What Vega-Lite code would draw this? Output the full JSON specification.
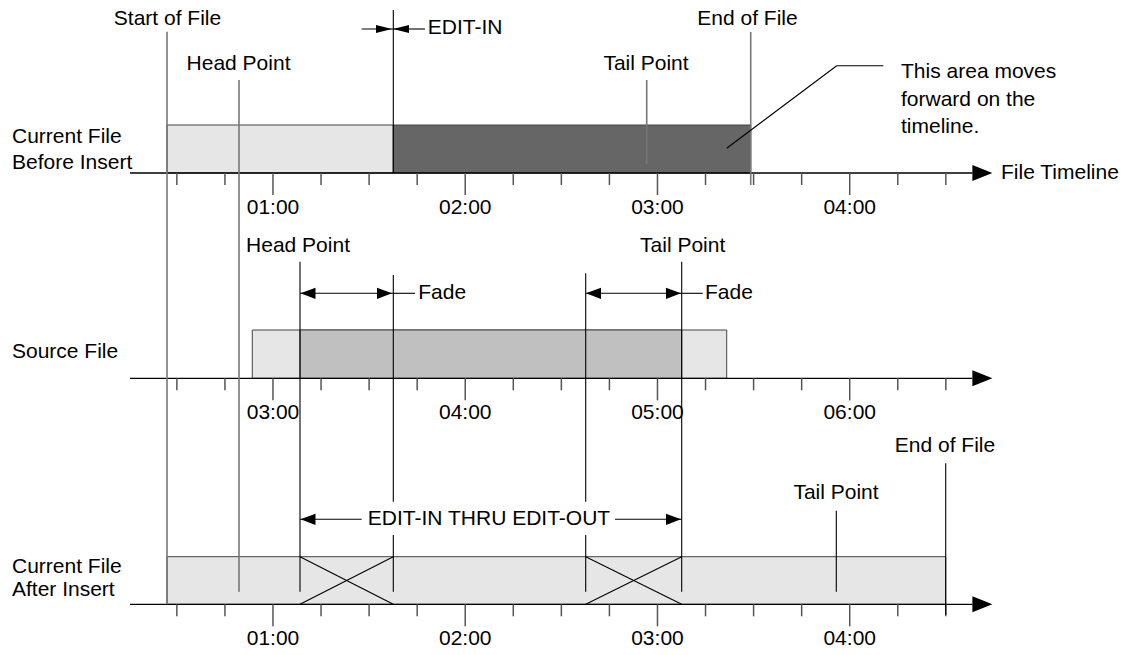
{
  "$schema": "https://vega.github.io/schema/vega-lite/v6.json",
  "width": 1127,
  "height": 655,
  "autosize": {"type": "fit", "contains": "padding"},
  "padding": 0,
  "background": "white",
  "config": {"view": {"stroke": null}},
  "datasets": {
    "bars": [
      {"x": 26.92, "x2": 97.55, "y": 125, "y2": 173, "part": "light"},
      {"x": 97.55, "x2": 209.10, "y": 125, "y2": 173, "part": "dark"},
      {"x": 53.54, "x2": 201.61, "y": 330, "y2": 378.3, "part": "light"},
      {"x": 68.43, "x2": 187.56, "y": 330, "y2": 378.3, "part": "mid"},
      {"x": 26.92, "x2": 269.96, "y": 556.7, "y2": 604.3, "part": "light"}
    ],
    "axes": [
      {"x": 15.37, "x2": 278.32, "y": 173, "y2": 173},
      {"x": 15.37, "x2": 278.32, "y": 378.3, "y2": 378.3},
      {"x": 15.37, "x2": 278.32, "y": 604.3, "y2": 604.3}
    ],
    "minor": [
      {"x": 30, "y": 173}, {"x": 45, "y": 173}, {"x": 75, "y": 173}, {"x": 90, "y": 173}, {"x": 105, "y": 173}, {"x": 135, "y": 173}, {"x": 150, "y": 173}, {"x": 165, "y": 173}, {"x": 195, "y": 173}, {"x": 210, "y": 173}, {"x": 225, "y": 173}, {"x": 255, "y": 173}, {"x": 270, "y": 173},
      {"x": 30, "y": 378.3}, {"x": 45, "y": 378.3}, {"x": 75, "y": 378.3}, {"x": 90, "y": 378.3}, {"x": 105, "y": 378.3}, {"x": 135, "y": 378.3}, {"x": 150, "y": 378.3}, {"x": 165, "y": 378.3}, {"x": 195, "y": 378.3}, {"x": 210, "y": 378.3}, {"x": 225, "y": 378.3}, {"x": 255, "y": 378.3}, {"x": 270, "y": 378.3},
      {"x": 30, "y": 604.3}, {"x": 45, "y": 604.3}, {"x": 75, "y": 604.3}, {"x": 90, "y": 604.3}, {"x": 105, "y": 604.3}, {"x": 135, "y": 604.3}, {"x": 150, "y": 604.3}, {"x": 165, "y": 604.3}, {"x": 195, "y": 604.3}, {"x": 210, "y": 604.3}, {"x": 225, "y": 604.3}, {"x": 255, "y": 604.3}, {"x": 270, "y": 604.3}
    ],
    "major": [
      {"x": 60, "y": 173, "label": "01:00"}, {"x": 120, "y": 173, "label": "02:00"}, {"x": 180, "y": 173, "label": "03:00"}, {"x": 240, "y": 173, "label": "04:00"},
      {"x": 60, "y": 378.3, "label": "03:00"}, {"x": 120, "y": 378.3, "label": "04:00"}, {"x": 180, "y": 378.3, "label": "05:00"}, {"x": 240, "y": 378.3, "label": "06:00"},
      {"x": 60, "y": 604.3, "label": "01:00"}, {"x": 120, "y": 604.3, "label": "02:00"}, {"x": 180, "y": 604.3, "label": "03:00"}, {"x": 240, "y": 604.3, "label": "04:00"}
    ],
    "greyLines": [
      {"x": 26.92, "x2": 26.92, "y": 31.7, "y2": 604.3},
      {"x": 49.39, "x2": 49.39, "y": 80, "y2": 591.7},
      {"x": 209.10, "x2": 209.10, "y": 32, "y2": 185},
      {"x": 176.64, "x2": 176.64, "y": 80, "y2": 164}
    ],
    "blackLines": [
      {"x": 97.55, "x2": 97.55, "y": 10, "y2": 173},
      {"x": 97.55, "x2": 97.55, "y": 275, "y2": 501.7},
      {"x": 97.55, "x2": 97.55, "y": 535, "y2": 591.7},
      {"x": 157.60, "x2": 157.60, "y": 273.3, "y2": 501.7},
      {"x": 157.60, "x2": 157.60, "y": 535, "y2": 591.7},
      {"x": 68.43, "x2": 68.43, "y": 261.7, "y2": 591.7},
      {"x": 187.56, "x2": 187.56, "y": 261.7, "y2": 591.7},
      {"x": 269.96, "x2": 269.96, "y": 463.3, "y2": 615},
      {"x": 235.81, "x2": 235.81, "y": 510.7, "y2": 591.7},
      {"x": 87.69, "x2": 97.55, "y": 29, "y2": 29},
      {"x": 97.55, "x2": 107.44, "y": 29, "y2": 29},
      {"x": 68.43, "x2": 97.55, "y": 293.3, "y2": 293.3},
      {"x": 97.55, "x2": 104.32, "y": 293.3, "y2": 293.3},
      {"x": 157.60, "x2": 187.56, "y": 293.3, "y2": 293.3},
      {"x": 187.56, "x2": 194.12, "y": 293.3, "y2": 293.3},
      {"x": 68.43, "x2": 87.69, "y": 519.3, "y2": 519.3},
      {"x": 166.75, "x2": 187.56, "y": 519.3, "y2": 519.3},
      {"x": 201.61, "x2": 235.94, "y": 148.3, "y2": 65.7},
      {"x": 235.94, "x2": 250.48, "y": 65.7, "y2": 65.7},
      {"x": 68.43, "x2": 97.55, "y": 556.7, "y2": 604.3},
      {"x": 68.43, "x2": 97.55, "y": 604.3, "y2": 556.7},
      {"x": 157.60, "x2": 187.56, "y": 556.7, "y2": 604.3},
      {"x": 157.60, "x2": 187.56, "y": 604.3, "y2": 556.7}
    ],
    "bigArrows": [
      {"x": 281.41, "y": 173}, {"x": 281.41, "y": 378.3}, {"x": 281.41, "y": 604.3}
    ],
    "rightHeads": [
      {"x": 94.80, "y": 293.3}, {"x": 185.0, "y": 293.3}, {"x": 185.0, "y": 519.3}
    ],
    "leftHeads": [
      {"x": 70.93, "y": 293.3}, {"x": 160.03, "y": 293.3}, {"x": 70.93, "y": 519.3}
    ],
    "thinRight": [{"x": 94.65, "y": 29}],
    "thinLeft": [{"x": 99.95, "y": 29}],
    "centerText": [
      {"x": 27.08, "y": 19, "label": "Start of File"},
      {"x": 49.24, "y": 64, "label": "Head Point"},
      {"x": 176.42, "y": 64, "label": "Tail Point"},
      {"x": 208.1, "y": 19, "label": "End of File"},
      {"x": 67.81, "y": 246, "label": "Head Point"},
      {"x": 187.87, "y": 246, "label": "Tail Point"},
      {"x": 127.42, "y": 519, "label": "EDIT-IN THRU EDIT-OUT"},
      {"x": 235.72, "y": 493, "label": "Tail Point"},
      {"x": 269.74, "y": 446, "label": "End of File"}
    ],
    "leftText": [
      {"x": 108.29, "y": 28, "label": "EDIT-IN"},
      {"x": 105.35, "y": 293, "label": "Fade"},
      {"x": 194.84, "y": 293, "label": "Fade"},
      {"x": 287.22, "y": 173, "label": "File Timeline"},
      {"x": 256.01, "y": 72, "label": "This area moves"},
      {"x": 256.01, "y": 100, "label": "forward on the"},
      {"x": 256.01, "y": 127, "label": "timeline."},
      {"x": -21.46, "y": 137, "label": "Current File"},
      {"x": -21.46, "y": 163, "label": "Before Insert"},
      {"x": -21.46, "y": 352, "label": "Source File"},
      {"x": -21.46, "y": 567, "label": "Current File"},
      {"x": -21.46, "y": 590, "label": "After Insert"}
    ]
  },
  "encoding": {
    "x": {"field": "x", "type": "quantitative", "scale": {"domain": [-25.2, 326.54], "nice": false, "zero": false}, "axis": null},
    "y": {"field": "y", "type": "quantitative", "scale": {"domain": [0, 655], "reverse": true, "nice": false, "zero": false}, "axis": null}
  },
  "layer": [
    {
      "data": {"name": "bars"},
      "mark": {"type": "rect", "stroke": "#444444", "strokeWidth": 1},
      "encoding": {
        "x2": {"field": "x2"},
        "y2": {"field": "y2"},
        "color": {"field": "part", "type": "nominal", "scale": {"domain": ["light", "dark", "mid"], "range": ["#e6e6e6", "#666666", "#c0c0c0"]}, "legend": null}
      }
    },
    {
      "data": {"name": "axes"},
      "mark": {"type": "rule", "color": "#000000", "strokeWidth": 1.3},
      "encoding": {"x2": {"field": "x2"}, "y2": {"field": "y2"}}
    },
    {
      "data": {"name": "minor"},
      "mark": {"type": "rule", "color": "#555555", "strokeWidth": 1.5, "y2Offset": 12},
      "encoding": {"y2": {"field": "y"}}
    },
    {
      "data": {"name": "major"},
      "mark": {"type": "rule", "color": "#555555", "strokeWidth": 1.5, "y2Offset": 22},
      "encoding": {"y2": {"field": "y"}}
    },
    {
      "data": {"name": "major"},
      "mark": {"type": "text", "dy": 35, "align": "center", "baseline": "middle", "fontSize": 21, "font": "Liberation Sans", "color": "#000000"},
      "encoding": {"text": {"field": "label"}}
    },
    {
      "data": {"name": "greyLines"},
      "mark": {"type": "rule", "color": "#777777", "strokeWidth": 1.6},
      "encoding": {"x2": {"field": "x2"}, "y2": {"field": "y2"}}
    },
    {
      "data": {"name": "blackLines"},
      "mark": {"type": "rule", "color": "#000000", "strokeWidth": 1.1},
      "encoding": {"x2": {"field": "x2"}, "y2": {"field": "y2"}}
    },
    {
      "data": {"name": "bigArrows"},
      "mark": {"type": "point", "shape": "M-1,-0.8L1,0L-1,0.8Z", "size": 400, "filled": true, "color": "#000000", "opacity": 1}
    },
    {
      "data": {"name": "rightHeads"},
      "mark": {"type": "point", "shape": "M-1,-0.75L1,0L-1,0.75Z", "size": 225, "filled": true, "color": "#000000", "opacity": 1}
    },
    {
      "data": {"name": "leftHeads"},
      "mark": {"type": "point", "shape": "M1,-0.75L-1,0L1,0.75Z", "size": 225, "filled": true, "color": "#000000", "opacity": 1}
    },
    {
      "data": {"name": "thinRight"},
      "mark": {"type": "point", "shape": "M-1,-0.5L1,0L-1,0.5Z", "size": 256, "filled": true, "color": "#000000", "opacity": 1}
    },
    {
      "data": {"name": "thinLeft"},
      "mark": {"type": "point", "shape": "M1,-0.5L-1,0L1,0.5Z", "size": 256, "filled": true, "color": "#000000", "opacity": 1}
    },
    {
      "data": {"name": "centerText"},
      "mark": {"type": "text", "align": "center", "baseline": "middle", "fontSize": 21, "font": "Liberation Sans", "color": "#000000"},
      "encoding": {"text": {"field": "label"}}
    },
    {
      "data": {"name": "leftText"},
      "mark": {"type": "text", "align": "left", "baseline": "middle", "fontSize": 21, "font": "Liberation Sans", "color": "#000000"},
      "encoding": {"text": {"field": "label"}}
    }
  ]
}
